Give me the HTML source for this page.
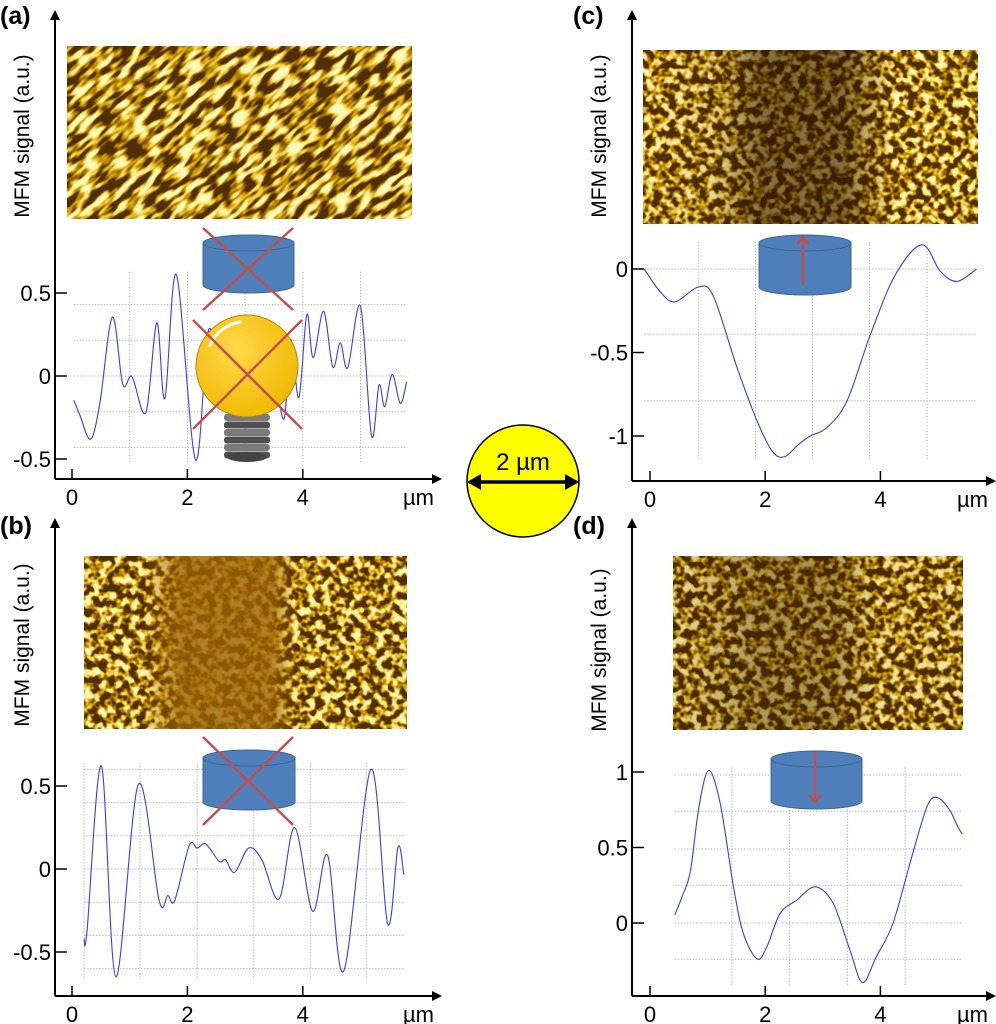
<!DOCTYPE html>
<html><head><meta charset="utf-8"><style>
html,body{margin:0;padding:0;background:#fff;}
svg{display:block;font-family:"Liberation Sans",Arial,sans-serif;}
</style></head><body>
<svg id="fig" width="996" height="1024" viewBox="0 0 996 1024">
<defs>
<filter id="mfm" x="0" y="0" width="100%" height="100%">
<feTurbulence type="fractalNoise" baseFrequency="0.05 0.15" numOctaves="2" seed="3"/>
<feColorMatrix type="matrix" values="1 0 0 0 0 1 0 0 0 0 1 0 0 0 0 0 0 0 0 1"/>
<feComponentTransfer>
<feFuncR type="linear" slope="3.6" intercept="-1.45"/>
<feFuncG type="linear" slope="3.6" intercept="-1.45"/>
<feFuncB type="linear" slope="3.6" intercept="-1.45"/>
</feComponentTransfer>
<feComponentTransfer>
<feFuncR type="table" tableValues="0.08 0.3 0.6 0.88 1 1"/>
<feFuncG type="table" tableValues="0.03 0.13 0.33 0.6 0.85 0.95"/>
<feFuncB type="table" tableValues="0 0 0 0.05 0.3 0.5"/>
</feComponentTransfer>
</filter>
<filter id="mfm2" x="0" y="0" width="100%" height="100%">
<feTurbulence type="fractalNoise" baseFrequency="0.13 0.13" numOctaves="2" seed="7"/>
<feColorMatrix type="matrix" values="1 0 0 0 0 1 0 0 0 0 1 0 0 0 0 0 0 0 0 1"/>
<feComponentTransfer>
<feFuncR type="linear" slope="3.4" intercept="-1.4"/>
<feFuncG type="linear" slope="3.4" intercept="-1.4"/>
<feFuncB type="linear" slope="3.4" intercept="-1.4"/>
</feComponentTransfer>
<feComponentTransfer>
<feFuncR type="table" tableValues="0.08 0.3 0.6 0.88 1 1"/>
<feFuncG type="table" tableValues="0.03 0.13 0.33 0.6 0.85 0.95"/>
<feFuncB type="table" tableValues="0 0 0 0.05 0.3 0.5"/>
</feComponentTransfer>
</filter>
<clipPath id="clipA"><rect x="67" y="46" width="345" height="173"/></clipPath>
<linearGradient id="gb" x1="0" x2="1"><stop offset="0" stop-color="#9a6208" stop-opacity="0"/><stop offset="0.18" stop-color="#9a6208" stop-opacity="0"/><stop offset="0.3" stop-color="#9a6208" stop-opacity="0.8"/><stop offset="0.58" stop-color="#9a6208" stop-opacity="0.8"/><stop offset="0.66" stop-color="#9a6208" stop-opacity="0"/></linearGradient>
<linearGradient id="gc" x1="0" x2="1"><stop offset="0" stop-color="#2a1400" stop-opacity="0"/><stop offset="0.22" stop-color="#2a1400" stop-opacity="0.15"/><stop offset="0.35" stop-color="#2a1400" stop-opacity="0.6"/><stop offset="0.6" stop-color="#2a1400" stop-opacity="0.6"/><stop offset="0.75" stop-color="#2a1400" stop-opacity="0"/></linearGradient>
<linearGradient id="gd" x1="0" x2="1"><stop offset="0" stop-color="#2a1400" stop-opacity="0.1"/><stop offset="0.3" stop-color="#3a2000" stop-opacity="0.45"/><stop offset="0.55" stop-color="#3a2000" stop-opacity="0.45"/><stop offset="0.7" stop-color="#2a1400" stop-opacity="0.1"/><stop offset="1" stop-color="#2a1400" stop-opacity="0.1"/></linearGradient>
<radialGradient id="bulb" cx="0.4" cy="0.35" r="0.7"><stop offset="0" stop-color="#ffd84a"/><stop offset="1" stop-color="#f0b800"/></radialGradient>
<marker id="ah" markerWidth="10" markerHeight="10" refX="8" refY="5" orient="auto" markerUnits="userSpaceOnUse"><path d="M0,0 L10,5 L0,10 Z" fill="#000"/></marker>
</defs>
<g id="layer"></g>
</svg>
<script>
// Panel (a) data
const aX = [0.03,0.13,0.32,0.48,0.70,0.88,1.04,1.28,1.47,1.61,1.81,2.14,2.37,2.6,2.9,3.2,3.45,3.67,3.79,3.93,4.07,4.18,4.36,4.52,4.65,4.78,5.0,5.19,5.32,5.42,5.55,5.69,5.8];
const aY = [-0.145,-0.23,-0.38,-0.17,0.355,-0.05,-0.004,-0.22,0.32,-0.135,0.61,-0.505,0.28,-0.1,0.2,-0.15,0.1,-0.26,0.22,-0.13,0.37,0.11,0.39,0.055,0.2,0.05,0.42,-0.36,-0.055,-0.185,0.01,-0.165,-0.035];
const aTicksY = [0.5,0,-0.5];
const aGridY = [0.43,0.215,0,-0.215,-0.43];
const aGridX = [1,2,3,4,5];
// Panel (b) data
const bX = [0.21,0.26,0.51,0.76,1.15,1.51,1.66,1.78,2.03,2.17,2.32,2.55,2.66,2.82,3.06,3.29,3.59,3.86,4.17,4.43,4.71,5.18,5.47,5.65,5.75];
const bY = [-0.42,-0.375,0.62,-0.65,0.51,-0.19,-0.16,-0.19,0.14,0.126,0.15,0.046,0.056,-0.02,0.126,0.056,-0.18,0.25,-0.254,0.082,-0.614,0.6,-0.33,0.132,-0.034];
const bTicksY = [0.5,0,-0.5];
const bGridY = [0.6,0.4,0.2,0,-0.2,-0.4,-0.6];
const bGridX = [0.21,1.18,2.17,3.15,4.13,5.1];
// Panel (c) data
const cX = [-0.10,0.17,0.43,0.84,1.10,1.51,1.86,2.12,2.33,2.58,2.78,3.07,3.42,3.83,4.26,4.72,5.04,5.33,5.67];
const cY = [0,-0.133,-0.197,-0.108,-0.163,-0.59,-0.91,-1.09,-1.125,-1.05,-1.0,-0.95,-0.79,-0.39,-0.034,0.145,-0.014,-0.074,0];
const cTicksY = [0,-0.5,-1];
const cGridY = [0,-0.39,-0.79];
const cGridX = [0.84,1.83,2.82,3.81,4.81];
// Panel (d) data
const dX = [0.43,0.56,0.70,0.85,1.02,1.22,1.45,1.62,1.86,2.03,2.26,2.55,2.87,3.18,3.47,3.69,3.93,4.22,4.56,4.82,4.99,5.20,5.34,5.42];
const dY = [0.053,0.178,0.34,0.77,1.01,0.79,0.24,-0.068,-0.238,-0.156,0.064,0.152,0.24,0.13,-0.178,-0.394,-0.222,0,0.46,0.78,0.83,0.75,0.64,0.59];
const dTicksY = [1,0.5,0];
const dGridY = [0.98,0.74,0.49,0.25,0,-0.24];
const dGridX = [1.42,2.42,3.43,4.43];
const xTicks = [0,2,4];

const NS = "http://www.w3.org/2000/svg";
const layer = document.getElementById('layer');
function mk(tag, attrs, parent){ const e=document.createElementNS(NS,tag); for(const k in attrs) e.setAttribute(k,attrs[k]); (parent||layer).appendChild(e); return e; }

function smooth(pts){
  let d = "M"+pts[0][0].toFixed(1)+","+pts[0][1].toFixed(1);
  for(let i=0;i<pts.length-1;i++){
    const p0=pts[Math.max(0,i-1)],p1=pts[i],p2=pts[i+1],p3=pts[Math.min(pts.length-1,i+2)];
    const c1=[p1[0]+(p2[0]-p0[0])/6,p1[1]+(p2[1]-p0[1])/6];
    const c2=[p2[0]-(p3[0]-p1[0])/6,p2[1]-(p3[1]-p1[1])/6];
    d+=" C"+c1[0].toFixed(1)+","+c1[1].toFixed(1)+" "+c2[0].toFixed(1)+","+c2[1].toFixed(1)+" "+p2[0].toFixed(1)+","+p2[1].toFixed(1);
  }
  return d;
}

function panel(cfg){
  const g = mk('g',{});
  
  
  const sx = v => cfg.x0 + v*cfg.ppx;
  const sy = v => cfg.y0 - v*cfg.ppy;
  const gx0=sx(cfg.X[0]), gx1=sx(cfg.X[cfg.X.length-1]);
  const ys = cfg.Y.map(sy);
  const gy0=Math.min(...ys)-3, gy1=Math.max(...ys)+3;
  cfg.gridY.forEach(v=>{
    const l=mk('line',{x1:gx0,x2:gx1,y1:sy(v),y2:sy(v),stroke:'#b8b8b8','stroke-width':1,'stroke-dasharray':'1.5,1.5'},g);
    
    
  });
  cfg.gridX.forEach(v=>{
    const l=mk('line',{x1:sx(v),x2:sx(v),y1:gy0,y2:gy1,stroke:'#b8b8b8','stroke-width':1,'stroke-dasharray':'1.5,1.5'},g);
    
    
  });
  const ya=mk('line',{x1:cfg.ax,y1:cfg.axY,x2:cfg.ax,y2:cfg.arrowTop,stroke:'#000','stroke-width':2,'marker-end':'url(#ah)'},g);
  
  
  const xa=mk('line',{x1:cfg.ax,y1:cfg.axY,x2:cfg.arrowRight,y2:cfg.axY,stroke:'#000','stroke-width':2,'marker-end':'url(#ah)'},g);
  
  
  cfg.ticksY.forEach(v=>{
    mk('line',{x1:cfg.ax,x2:cfg.ax+12,y1:sy(v),y2:sy(v),stroke:'#000','stroke-width':1.5},g);
    const t=mk('text',{x:cfg.ax-4,y:sy(v)+8,'font-size':22,'text-anchor':'end'},g);
    t.textContent = String(v);
    
    
  });
  xTicks.forEach(v=>{
    mk('line',{x1:sx(v),x2:sx(v),y1:cfg.axY,y2:cfg.axY-10,stroke:'#000','stroke-width':1.5},g);
    const t=mk('text',{x:sx(v),y:cfg.axY+26,'font-size':22,'text-anchor':'middle'},g);
    t.textContent = String(v);
    
    
  });
  const u=mk('text',{x:cfg.arrowRight-6,y:cfg.axY+26,'font-size':22,'text-anchor':'end'},g);
  u.textContent='µm';
  
  
  const yl=mk('text',{x:0,y:0,'font-size':21,'text-anchor':'middle',transform:'translate('+(cfg.ax-26)+','+cfg.labelY+') rotate(-90)'},g);
  yl.textContent='MFM signal (a.u.)';
  
  
  const pl=mk('text',{x:cfg.lblX,y:cfg.lblY,'font-size':25,'font-weight':'bold'},g);
  pl.textContent='('+cfg.id+')';
  
  
  if(cfg.rot){
    const cg=mk('g',{'clip-path':'url(#clipA)'},g);
    const cx=cfg.img[0]+cfg.img[2]/2, cy=cfg.img[1]+cfg.img[3]/2;
    const im=mk('rect',{x:cx-260,y:cy-260,width:520,height:520,filter:cfg.filter,fill:'#000',transform:'rotate('+cfg.rot+' '+cx+' '+cy+')'},cg);
    
    
  } else {
    const im=mk('rect',{x:cfg.img[0],y:cfg.img[1],width:cfg.img[2],height:cfg.img[3],filter:cfg.filter,fill:'#000'},g);
    
    
  }
  if(cfg.overlay){
    const ov=mk('rect',{x:cfg.img[0],y:cfg.img[1],width:cfg.img[2],height:cfg.img[3],fill:cfg.overlay},g);
    
    
  }
  const pts = cfg.X.map((x,i)=>[sx(x),sy(cfg.Y[i])]);
  const c=mk('path',{d:smooth(pts),fill:'none',stroke:'#3a3aee','stroke-width':1.1},g);
  
  
  return g;
}

panel({id:'a',x0:72,ppx:57.7,y0:376,ppy:166,ax:55,axY:479,arrowTop:12,arrowRight:440,labelY:136,lblX:0,lblY:24,
  X:aX,Y:aY,ticksY:aTicksY,gridY:aGridY,gridX:aGridX,img:[67,46,345,173],filter:'url(#mfm)',rot:-42});
panel({id:'b',x0:72,ppx:57.7,y0:869,ppy:166,ax:55,axY:996,arrowTop:520,arrowRight:440,labelY:645,lblX:0,lblY:534,
  X:bX,Y:bY,ticksY:bTicksY,gridY:bGridY,gridX:bGridX,img:[84,556,323,173],filter:'url(#mfm2)',overlay:'url(#gb)'});
panel({id:'c',x0:650,ppx:57.6,y0:269,ppy:167,ax:632,axY:481,arrowTop:12,arrowRight:994,labelY:136,lblX:573,lblY:24,
  X:cX,Y:cY,ticksY:cTicksY,gridY:cGridY,gridX:cGridX,img:[643,50,335,174],filter:'url(#mfm2)',overlay:'url(#gc)'});
panel({id:'d',x0:650,ppx:57.6,y0:923,ppy:151,ax:632,axY:996,arrowTop:520,arrowRight:994,labelY:650,lblX:573,lblY:534,
  X:dX,Y:dY,ticksY:dTicksY,gridY:dGridY,gridX:dGridX,img:[673,556,290,174],filter:'url(#mfm2)',overlay:'url(#gd)'});

function cylinder(x,w,ytop,ybot,name){
  const g=mk('g',{});
  
  
  const rx=w/2, ry=8, cx=x+rx;
  mk('path',{d:`M${x},${ytop} L${x},${ybot} A${rx},${ry} 0 0 0 ${x+w},${ybot} L${x+w},${ytop} Z`,fill:'#4f7fba',stroke:'#3d6594','stroke-width':1},g);
  mk('ellipse',{cx:cx,cy:ytop,rx:rx,ry:ry,fill:'#4f7fba',stroke:'#3d6594','stroke-width':1},g);
  return g;
}
function cross(x1,y1,x2,y2,name){
  const g=mk('g',{stroke:'#c0504d','stroke-width':2.5});
  
  
  mk('line',{x1:x1,y1:y1,x2:x2,y2:y2},g);
  mk('line',{x1:x2,y1:y1,x2:x1,y2:y2},g);
}
cylinder(203,91,243,285,'magnet-cylinder-a');
cross(203,228,293,310,'magnet-cross-a');
const bulb=mk('g',{});


for(let i=0;i<6;i++){ mk('rect',{x:224,y:414+i*7.5,width:46,height:7,rx:3,fill:i%2?'#505050':'#7a7a7a'},bulb); }
mk('ellipse',{cx:247,cy:457,rx:20,ry:5,fill:'#444'},bulb);
mk('circle',{cx:247,cy:366,r:51,fill:'url(#bulb)',stroke:'#b08800','stroke-width':1},bulb);
mk('path',{d:'M210,345 A40,40 0 0 1 240,322',fill:'none',stroke:'#fff','stroke-width':3,'stroke-linecap':'round'},bulb);
cross(193,320,302,429,'bulb-cross');
cylinder(203,92,758,802,'magnet-cylinder-b');
cross(203,737,293,825,'magnet-cross-b');
cylinder(759,92,243,287,'magnet-cylinder-c');
const ac=mk('g',{stroke:'#c0504d','stroke-width':2.5,fill:'none'});


mk('line',{x1:803,y1:285,x2:803,y2:238},ac);
mk('path',{d:'M797,244 L803,237 L809,244'},ac);
cylinder(771,91,759,801,'magnet-cylinder-d');
const ad=mk('g',{stroke:'#c0504d','stroke-width':2.5,fill:'none'});


mk('line',{x1:815,y1:752,x2:815,y2:801},ad);
mk('path',{d:'M809,795 L815,802 L821,795'},ad);
const sc=mk('g',{});


mk('circle',{cx:523,cy:481,r:56,fill:'#ffff00',stroke:'#000','stroke-width':1.5},sc);
mk('line',{x1:470,y1:482,x2:576,y2:482,stroke:'#000','stroke-width':3.5},sc);
mk('path',{d:'M467,482 L481,474 L481,490 Z M579,482 L565,474 L565,490 Z',fill:'#000'},sc);
const st=mk('text',{x:523,y:470,'font-size':24,'text-anchor':'middle'},sc);
st.textContent='2 µm';


</script>
</body></html>
